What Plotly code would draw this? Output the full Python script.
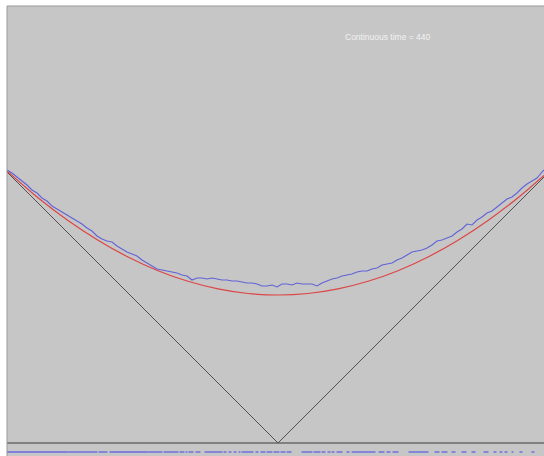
import plotly.graph_objects as go

# ---- data (site position relative to origin, height) ----
blue_x = list(range(-271, 265, 5)) + [266]
blue_h = [273, 270, 266, 262, 258, 253, 250, 245, 242, 237, 234, 231, 228, 225, 222, 219,
          215, 212, 207, 204, 202, 201, 197, 194, 191, 189, 187, 183, 180, 177, 174, 173,
          172, 171, 170, 168, 167, 163, 165, 165, 164, 165, 164, 163, 163, 162, 162, 161,
          160, 160, 159, 157, 157, 158, 156, 159, 159, 158, 160, 159, 159, 159, 157, 160,
          162, 164, 165, 167, 168, 169, 171, 172, 172, 174, 175, 178, 179, 180, 183, 185,
          188, 191, 192, 193, 195, 198, 202, 203, 205, 207, 211, 214, 219, 218, 223, 226,
          230, 232, 236, 240, 244, 246, 250, 255, 259, 262, 265, 271, 273]

red_x = [-271, -240, -210, -180, -150, -120, -90, -60, -30, 0, 30, 60, 90, 120, 150, 180, 210, 240, 266]
red_h = [272.1, 245.3, 222.5, 202.8, 186.0, 172.3, 161.7, 154.1, 149.5, 148.0, 149.5, 154.1,
         161.7, 172.3, 186.0, 202.8, 222.5, 245.3, 267.6]

wedge_x = [-271, 0, 266]
wedge_h = [271, 0, 266]

# occupied particle runs (start, end) in site positions
particle_runs = [(-271, -211), (-210, -181), (-179, -171), (-168, -131), (-130, -116), (-114, -100),
                 (-98, -94), (-92, -91), (-89, -85), (-82, -78), (-73, -56), (-54, -52), (-49, -47),
                 (-44, -42), (-39, -38), (-36, -25), (-22, -20), (-17, -13), (-11, -6), (-4, 1),
                 (3, 7), (9, 13), (24, 34), (36, 42), (44, 47), (50, 52), (54, 56), (59, 64),
                 (69, 71), (74, 97), (101, 106), (109, 112), (115, 120), (131, 150), (157, 161),
                 (164, 169), (174, 177), (184, 188), (194, 197), (206, 210), (216, 218), (222, 224),
                 (227, 229), (234, 235), (242, 244), (254, 256)]

time_label = "Continuous time = 440"

# ---- figure ----
fig = go.Figure()

# baseline
fig.add_trace(go.Scatter(x=[-271, 266], y=[0, 0], mode="lines",
                         line=dict(color="#808080", width=2), hoverinfo="skip"))
# wedge
fig.add_trace(go.Scatter(x=wedge_x, y=wedge_h, mode="lines",
                         line=dict(color="#505050", width=1), hoverinfo="skip"))
# limit shape
fig.add_trace(go.Scatter(x=red_x, y=red_h, mode="lines",
                         line=dict(color="#dc4646", width=1.2, shape="spline"), hoverinfo="skip"))
# simulated interface
fig.add_trace(go.Scatter(x=blue_x, y=blue_h, mode="lines",
                         line=dict(color="#6262d8", width=1.1), hoverinfo="skip"))
# particles
px, py = [], []
for a, b in particle_runs:
    px += [a - 0.5, b + 0.5, None]
    py += [-9, -9, None]
fig.add_trace(go.Scatter(x=px, y=py, mode="lines",
                         line=dict(color="#6a6ae0", width=1.4), hoverinfo="skip"))

fig.add_annotation(x=110, y=406, text=time_label, showarrow=False,
                   font=dict(family="Liberation Sans, Arial", size=8.5, color="#f2f2f2"))

# panel border (top and left)
fig.add_shape(type="line", xref="paper", yref="paper", x0=0, x1=1, y0=1, y1=1,
              line=dict(color="#999999", width=1))
fig.add_shape(type="line", xref="paper", yref="paper", x0=0, x1=0, y0=0, y1=1,
              line=dict(color="#999999", width=1))

fig.update_layout(
    width=544, height=456,
    margin=dict(l=7, r=0, t=6, b=0),
    paper_bgcolor="white", plot_bgcolor="#c6c6c6",
    showlegend=False,
    xaxis=dict(range=[-271, 266], visible=False, fixedrange=True),
    yaxis=dict(range=[-13, 437], visible=False, fixedrange=True),
)

fig.write_html("out.html", config={"displayModeBar": False},
               post_script="document.body.style.margin='0px';document.body.style.overflow='hidden';")
